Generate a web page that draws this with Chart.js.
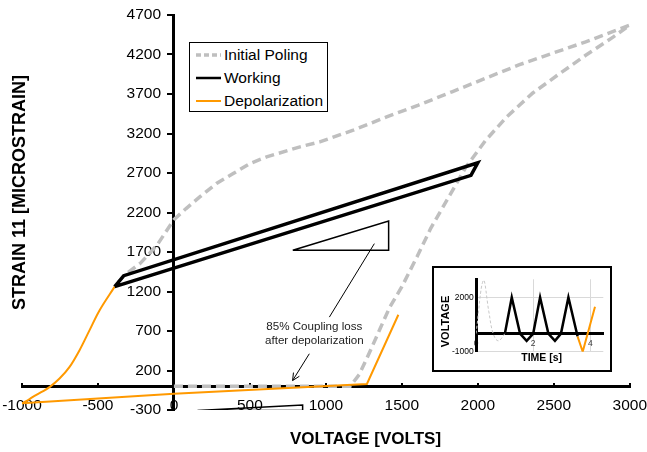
<!DOCTYPE html>
<html>
<head>
<meta charset="utf-8">
<title>Strain 11 vs voltage</title>
<script src="https://cdn.jsdelivr.net/npm/chart.js"></script>
<style>
  html, body { margin: 0; padding: 0; background: #fff; }
  #wrap { position: relative; width: 647px; height: 452px; font-family: "Liberation Sans", Arial, sans-serif; }
  #main { position: absolute; left: 0; top: 0; }
  #legend { position: absolute; left: 189px; top: 42px; width: 139px; height: 70px; box-sizing: border-box; border: 1px solid #000; background: #fff; }
  #legend .row { height: 23px; display: flex; align-items: center; padding-left: 6px; font-size: 15.5px; color: #000; white-space: nowrap; }
  #legend svg { margin-right: 3px; flex: none; }
  #insetBox { position: absolute; left: 432px; top: 266px; width: 180px; height: 106px; box-sizing: border-box; border: 2px solid #000; background: #fff; }
  #inset { position: absolute; left: 434px; top: 268px; }
</style>
</head>
<body>
<div id="wrap">
  <canvas id="main" width="647" height="452"></canvas>
  <div id="legend"></div>
  <div id="insetBox"></div>
  <canvas id="inset" width="176" height="102"></canvas>
</div>
<script>
const FONT = "'Liberation Sans', Arial, sans-serif";
Chart.defaults.font.family = FONT;
Chart.defaults.color = '#000';

// axis ticks
const voltTicks = [-1000, -500, 0, 500, 1000, 1500, 2000, 2500, 3000];
const strainTicks = [-300, 200, 700, 1200, 1700, 2200, 2700, 3200, 3700, 4200, 4700];

const seriesNames = ['Initial Poling', 'Working', 'Depolarization'];

// initial poling: 0 -> 3000 V, then back down to -390 V
const polingVolts = [0, 1160, 1220, 1290, 1350, 1420, 1500, 1600, 1690, 1810, 1920, 2050, 2190, 2360, 2540, 2710, 2890, 3000,
  2710, 2490, 2270, 2050, 1830, 1610, 1400, 1180, 960, 830, 610, 500, 390, 280, 170, 80, 0, -110, -220, -330, -390];
const polingStrain = [0, 0, 150, 440, 700, 1000, 1260, 1640, 2000, 2400, 2770, 3110, 3410, 3710, 3960, 4190, 4420, 4573,
  4360, 4215, 4068, 3898, 3728, 3560, 3410, 3242, 3094, 3031, 2904, 2820, 2693, 2567, 2397, 2250, 2110, 1790, 1560, 1400, 1265];

// working cycle between -390 V and 2000 V
const workingVolts = [-390, -330, 2000, 1955, -390];
const workingStrain = [1262, 1400, 2830, 2670, 1262];

// depolarization: down to -1000 V (curved), then back up to ~1480 V
const depolDownVolts = [-390, -490, -556, -622, -688, -753, -819, -874, -931, -972, -1000];
const depolDownStrain = [1262, 961, 708, 454, 242, 98, -11, -75, -138, -189, -215];
const depolUpVolts = [-1000, 0, 1270, 1477];
const depolUpStrain = [-215, -95, 30, 906];

// slope triangles (coupling before / after depolarization)
const slopeBeforeVolts = [782, 1413, 1413, 782];
const slopeBeforeStrain = [1721, 1721, 2093, 1721];
const slopeAfterVolts = [155, 847, 847, 155];
const slopeAfterStrain = [-307, -307, -237, -307];

// inset: voltage history over time
const timeTicks = [0, 2, 4];
const insetVoltTicks = [-1000, 2000];
const insetPolingTime = [0, 0.26, 0.45, 0.6, 0.78, 1.01];
const insetPolingVolts = [0, 2950, 1200, 0, -400, 0];
const insetWorkingTime = [1.01, 1.25, 1.54, 1.77, 2.0, 2.24, 2.53, 2.76, 2.97, 3.23, 3.55];
const insetWorkingVolts = [0, 2000, 0, -400, 0, 2000, 0, -400, 0, 2000, -150];
const insetDepolTime = [3.55, 3.73, 4.16];
const insetDepolVolts = [-150, -1000, 1480];

const GREY = '#bfbfbf';
const ORANGE = '#ff9900';

const pts = (xs, ys) => xs.map((x, i) => ({ x, y: ys[i] }));
const fixedTicks = (values) => (scale) => { scale.ticks = values.map(value => ({ value })); };
// labels of an axis sitting at x = 0 are right-aligned on the line itself, so pad them off it
const plain = (v) => String(v);
const padded = (gap) => (v) => String(v) + gap;

// axis titles drawn straight onto the canvas
const axisTitles = {
  id: 'axisTitles',
  afterDraw(chart, args, opts) {
    const { ctx } = chart;
    ctx.save();
    ctx.fillStyle = '#000';
    ctx.textAlign = 'center';
    ctx.textBaseline = 'middle';
    ctx.font = `bold ${opts.xSize}px ${FONT}`;
    ctx.fillText(opts.xText, opts.xAt[0], opts.xAt[1]);
    ctx.translate(opts.yAt[0], opts.yAt[1]);
    ctx.rotate(-Math.PI / 2);
    ctx.font = `bold ${opts.ySize}px ${FONT}`;
    ctx.fillText(opts.yText, 0, 0);
    ctx.restore();
  }
};

// note with leader lines pointing at the two slope triangles
const noteLeaderTop = [[1319, 1806], [1023, 876]];
const noteArrow = [[891, 412], [781, 73]];
const noteAt = [924, 749, 577];
const couplingNote = {
  id: 'couplingNote',
  afterDatasetsDraw(chart) {
    const { ctx, scales: { x, y } } = chart;
    const p = ([v, s]) => [x.getPixelForValue(v), y.getPixelForValue(s)];
    ctx.save();
    ctx.strokeStyle = '#000';
    ctx.lineWidth = 1;
    let [a, b] = noteLeaderTop.map(p);
    ctx.beginPath(); ctx.moveTo(a[0], a[1]); ctx.lineTo(b[0], b[1]); ctx.stroke();
    [a, b] = noteArrow.map(p);
    ctx.beginPath(); ctx.moveTo(a[0], a[1]); ctx.lineTo(b[0], b[1]); ctx.stroke();
    const ang = Math.atan2(b[1] - a[1], b[0] - a[0]);
    ctx.beginPath();
    ctx.moveTo(b[0] - 8 * Math.cos(ang - 0.45), b[1] - 8 * Math.sin(ang - 0.45));
    ctx.lineTo(b[0], b[1]);
    ctx.lineTo(b[0] - 8 * Math.cos(ang + 0.45), b[1] - 8 * Math.sin(ang + 0.45));
    ctx.stroke();
    ctx.fillStyle = '#222';
    ctx.font = `11.6px ${FONT}`;
    ctx.textAlign = 'center';
    ctx.textBaseline = 'middle';
    const tx = x.getPixelForValue(noteAt[0]);
    ctx.fillText('85% Coupling loss', tx, y.getPixelForValue(noteAt[1]));
    ctx.fillText('after depolarization', tx, y.getPixelForValue(noteAt[2]));
    ctx.restore();
  }
};

const line = (data, color, width, order, extra) => Object.assign({
  data, borderColor: color, borderWidth: width, order,
  showLine: true, pointRadius: 0, fill: false, tension: 0
}, extra || {});

new Chart(document.getElementById('main'), {
  type: 'scatter',
  data: {
    datasets: [
      line(pts(polingVolts, polingStrain), GREY, 3.5, 4, { label: seriesNames[0], borderDash: [9, 5] }),
      line(pts(workingVolts, workingStrain), '#000', 3.5, 2, { label: seriesNames[1], borderJoinStyle: 'miter' }),
      line(pts(depolDownVolts, depolDownStrain), ORANGE, 2, 3, { label: seriesNames[2], tension: 0.35 }),
      line(pts(depolUpVolts, depolUpStrain), ORANGE, 2, 3, { label: seriesNames[2] }),
      line(pts(slopeBeforeVolts, slopeBeforeStrain), '#000', 1.5, 1),
      line(pts(slopeAfterVolts, slopeAfterStrain), '#000', 1.5, 1)
    ]
  },
  options: {
    responsive: false,
    animation: false,
    layout: { padding: { left: 22, right: 17, top: 15, bottom: 42 } },
    plugins: {
      legend: { display: false },
      tooltip: { enabled: false },
      axisTitles: {
        xText: 'VOLTAGE [VOLTS]', xSize: 17, xAt: [365.5, 439.5],
        yText: 'STRAIN 11 [MICROSTRAIN]', ySize: 18, yAt: [20, 192.5]
      }
    },
    scales: {
      x: {
        type: 'linear', min: -1000, max: 3000,
        position: { y: 0 },
        afterBuildTicks: fixedTicks(voltTicks),
        grid: { drawOnChartArea: false, drawTicks: true, tickLength: -5, color: '#000', lineWidth: 2 },
        border: { color: '#000', width: 3 },
        // ticks point up into the plot; the tall line height drops the labels below the axis
        ticks: { padding: 0, color: '#000', font: { size: 15.5, lineHeight: 3.12 }, callback: plain }
      },
      y: {
        type: 'linear', min: -300, max: 4700,
        position: { x: 0 },
        afterBuildTicks: fixedTicks(strainTicks),
        grid: { drawOnChartArea: false, drawTicks: true, tickLength: 5, color: '#000', lineWidth: 2 },
        border: { color: '#000', width: 3 },
        ticks: { color: '#000', font: { size: 15.5 }, callback: padded('   ') }
      }
    }
  },
  plugins: [couplingNote, axisTitles]
});

// html legend
const legendStyles = [
  { color: GREY, width: 3.5, dash: '5 3' },
  { color: '#000', width: 2.5, dash: '' },
  { color: ORANGE, width: 2, dash: '' }
];
document.getElementById('legend').innerHTML = seriesNames.map((name, i) => {
  const s = legendStyles[i];
  return `<div class="row"><svg width="25" height="6"><line x1="0" y1="3" x2="25" y2="3" stroke="${s.color}" stroke-width="${s.width}" stroke-dasharray="${s.dash}"/></svg><span>${name}</span></div>`;
}).join('');

// inset: applied voltage vs time
new Chart(document.getElementById('inset'), {
  type: 'scatter',
  data: {
    datasets: [
      line(pts(insetPolingTime, insetPolingVolts), '#c8c8c8', 1, 3, { borderDash: [3, 2], tension: 0.4 }),
      line(pts(insetWorkingTime, insetWorkingVolts), '#000', 2.5, 1),
      line(pts(insetDepolTime, insetDepolVolts), ORANGE, 2, 2)
    ]
  },
  options: {
    responsive: false,
    animation: false,
    layout: { padding: { left: 42, right: 6.7, top: 11.3, bottom: 18.3 } },
    plugins: {
      legend: { display: false },
      tooltip: { enabled: false },
      axisTitles: {
        xText: 'TIME [s]', xSize: 10.5, xAt: [107.7, 90],
        yText: 'VOLTAGE', ySize: 11, yAt: [12, 53.5]
      }
    },
    scales: {
      x: {
        type: 'linear', min: 0, max: 4.45,
        position: { y: 0 },
        afterBuildTicks: fixedTicks(timeTicks),
        grid: { color: '#d9d9d9', lineWidth: 1, drawTicks: false },
        border: { color: '#000', width: 3 },
        ticks: { padding: 3, color: '#404040', font: { size: 8.5, lineHeight: 1.6 }, callback: plain }
      },
      y: {
        type: 'linear', min: -1000, max: 3000,
        position: { x: 0 },
        afterBuildTicks: fixedTicks(insetVoltTicks),
        grid: { color: '#d9d9d9', lineWidth: 1, drawTicks: false },
        border: { color: '#000', width: 3 },
        ticks: { color: '#000', font: { size: 8.5 }, callback: padded(' ') }
      }
    }
  },
  plugins: [axisTitles]
});
</script>
</body>
</html>
